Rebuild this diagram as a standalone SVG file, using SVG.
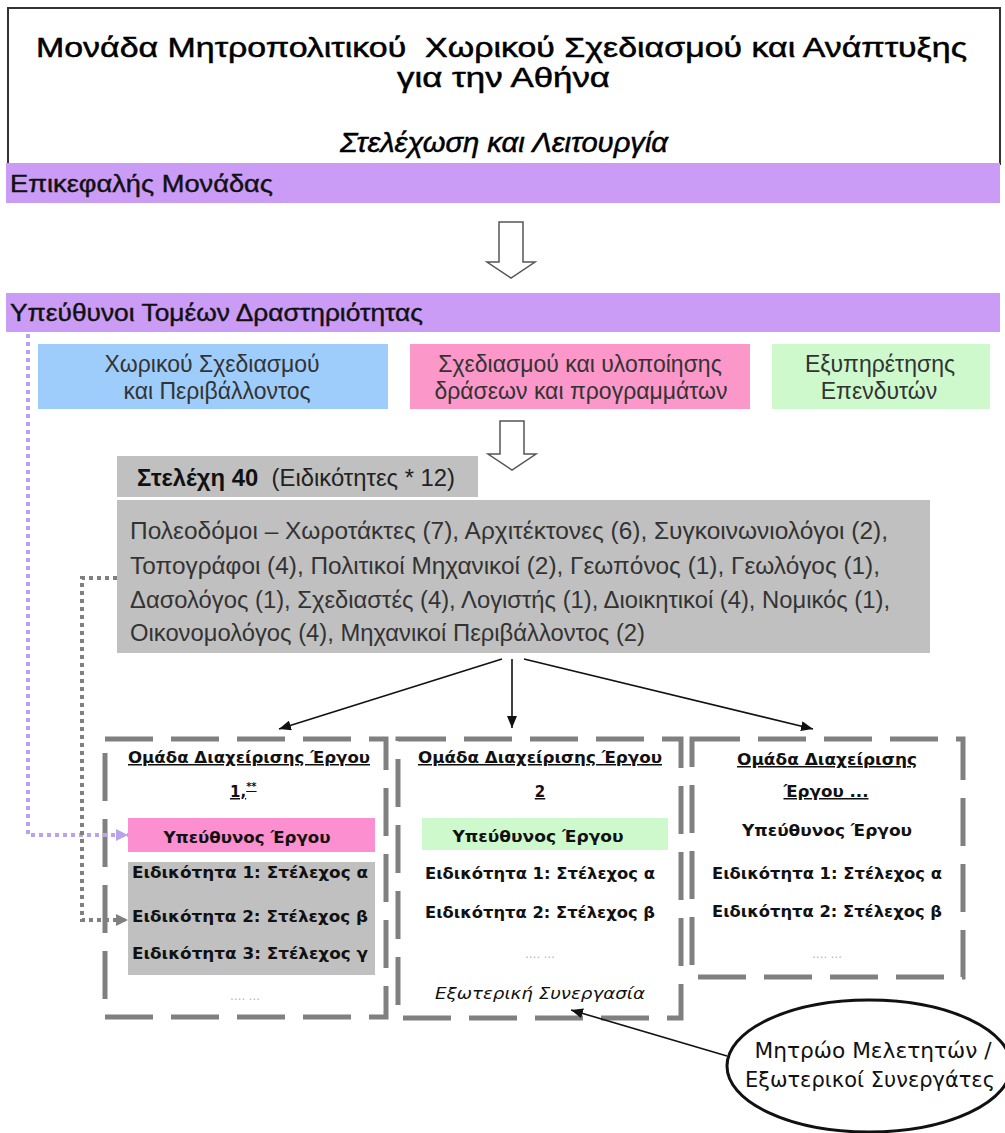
<svg xmlns="http://www.w3.org/2000/svg" width="1005" height="1133" viewBox="0 0 1005 1133">
<style>
.sans{font-family:"Liberation Sans",Arial,sans-serif}
.thick{stroke:#000;stroke-width:0.5}
.bold{font-family:"DejaVu Sans","Liberation Sans",sans-serif;font-weight:bold;fill:#111}
.lite{font-family:"Liberation Sans",Arial,sans-serif;fill:#333}
.box{font-family:"Liberation Sans",Arial,sans-serif;fill:#333;font-size:23px;text-anchor:middle}
.dash{fill:none;stroke:#808080;stroke-width:5;stroke-dasharray:48 18}
.hollow{fill:#fff;stroke:#555;stroke-width:1.5}
.dots{font-family:"Liberation Sans",sans-serif;font-size:12px;fill:#b0b0b0}
.ln{fill:none;stroke:#111;stroke-width:1.6}
</style>
<defs>
<marker id="ab" viewBox="0 0 12 10" refX="12" refY="5" markerWidth="12" markerHeight="10" markerUnits="userSpaceOnUse" orient="auto"><path d="M0,0 L12,5 L0,10 Z" fill="#111"/></marker>
<marker id="al" viewBox="0 0 12 12" refX="12" refY="6" markerWidth="12" markerHeight="14" markerUnits="userSpaceOnUse" orient="auto"><path d="M0,0 L12,6 L0,12 Z" fill="#b9a3ec"/></marker>
<marker id="ag" viewBox="0 0 12 12" refX="12" refY="6" markerWidth="12" markerHeight="14" markerUnits="userSpaceOnUse" orient="auto"><path d="M0,0 L12,6 L0,12 Z" fill="#808080"/></marker>
</defs>
<rect width="1005" height="1133" fill="#fff"/>

<g id="title">
<rect x="8" y="8" width="992" height="156" fill="#fff" stroke="#333" stroke-width="2"/>
<text class="sans thick" x="36" y="57" font-size="28" fill="#000" textLength="931" lengthAdjust="spacingAndGlyphs" xml:space="preserve">Μονάδα Μητροπολιτικού  Χωρικού Σχεδιασμού και Ανάπτυξης</text>
<text class="sans thick" x="397" y="87" font-size="28" fill="#000" textLength="213" lengthAdjust="spacingAndGlyphs">για την Αθήνα</text>
<text class="sans thick" x="340" y="152" font-size="28" font-style="italic" fill="#000" textLength="328" lengthAdjust="spacingAndGlyphs">Στελέχωση και Λειτουργία</text>
</g>

<g id="head">
<rect x="6" y="163" width="994" height="40" fill="#ca9cf6"/>
<text class="sans" x="10" y="192" font-size="23" fill="#111" stroke="#111" stroke-width="0.4" textLength="263" lengthAdjust="spacingAndGlyphs">Επικεφαλής Μονάδας</text>
</g>

<g id="sectors">
<rect x="6" y="293" width="994" height="39" fill="#ca9cf6"/>
<text class="sans" x="10" y="321" font-size="23" fill="#111" stroke="#111" stroke-width="0.4" textLength="413" lengthAdjust="spacingAndGlyphs">Υπεύθυνοι Τομέων Δραστηριότητας</text>
</g>

<g id="sector-blue">
<rect x="38" y="344" width="350" height="65" fill="#9fcdfb"/>
<text class="box" x="212" y="372">Χωρικού Σχεδιασμού</text>
<text class="box" x="217" y="399">και Περιβάλλοντος</text>
</g>
<g id="sector-pink">
<rect x="410" y="344" width="340" height="65" fill="#fb97c9"/>
<text class="box" x="580" y="372">Σχεδιασμού και υλοποίησης</text>
<text class="box" x="581" y="399">δράσεων και προγραμμάτων</text>
</g>
<g id="sector-green">
<rect x="772" y="344" width="218" height="65" fill="#cdf9cd"/>
<text class="box" x="880" y="372">Εξυπηρέτησης</text>
<text class="box" x="879" y="399">Επενδυτών</text>
</g>

<g id="staff-head">
<rect x="117" y="456" width="361" height="41" fill="#c0c0c0"/>
<text class="sans" x="137" y="486" font-size="23" fill="#222" textLength="318" lengthAdjust="spacingAndGlyphs" xml:space="preserve"><tspan font-weight="bold" fill="#111">Στελέχη 40</tspan>  (Ειδικότητες * 12)</text>
</g>
<g id="staff-list">
<rect x="117" y="500" width="813" height="153" fill="#c0c0c0"/>
<text class="lite" x="130" y="539" font-size="23" fill="#222" textLength="758" lengthAdjust="spacingAndGlyphs">Πολεοδόμοι – Χωροτάκτες (7), Αρχιτέκτονες (6), Συγκοινωνιολόγοι (2),</text>
<text class="lite" x="130" y="574" font-size="23" fill="#222" textLength="750" lengthAdjust="spacingAndGlyphs">Τοπογράφοι (4), Πολιτικοί Μηχανικοί (2), Γεωπόνος (1), Γεωλόγος (1),</text>
<text class="lite" x="130" y="608" font-size="23" fill="#222" textLength="760" lengthAdjust="spacingAndGlyphs">Δασολόγος (1), Σχεδιαστές (4), Λογιστής (1), Διοικητικοί (4), Νομικός (1),</text>
<text class="lite" x="130" y="641" font-size="23" fill="#222" textLength="515" lengthAdjust="spacingAndGlyphs">Οικονομολόγος (4), Μηχανικοί Περιβάλλοντος (2)</text>
</g>

<g id="team1">
<rect class="dash" x="105" y="739" width="281" height="278"/>
<text class="bold" x="249" y="763" font-size="15" text-anchor="middle" text-decoration="underline" textLength="242" lengthAdjust="spacingAndGlyphs">Ομάδα Διαχείρισης Έργου</text>
<text class="bold" x="230" y="797" font-size="15" text-decoration="underline">1,<tspan font-size="10" dy="-7">**</tspan></text>
<rect x="128" y="818" width="247" height="34" fill="#fb8fcf"/>
<text class="bold" x="247" y="843" font-size="16" text-anchor="middle" textLength="167" lengthAdjust="spacingAndGlyphs">Υπεύθυνος Έργου</text>
<rect x="128" y="862" width="247" height="113" fill="#c0c0c0"/>
<text class="bold" x="250" y="878" font-size="16" text-anchor="middle" textLength="236" lengthAdjust="spacingAndGlyphs">Ειδικότητα 1: Στέλεχος α</text>
<text class="bold" x="250" y="922" font-size="16" text-anchor="middle" textLength="236" lengthAdjust="spacingAndGlyphs">Ειδικότητα 2: Στέλεχος β</text>
<text class="bold" x="250" y="959" font-size="16" text-anchor="middle" textLength="236" lengthAdjust="spacingAndGlyphs">Ειδικότητα 3: Στέλεχος γ</text>
<text class="dots" x="245" y="1000" text-anchor="middle">…. …</text>
</g>

<g id="team2">
<rect class="dash" x="398" y="739" width="283" height="279"/>
<text class="bold" x="540" y="763" font-size="15" text-anchor="middle" text-decoration="underline" textLength="244" lengthAdjust="spacingAndGlyphs">Ομάδα Διαχείρισης Έργου</text>
<text class="bold" x="540" y="797" font-size="15" text-anchor="middle" text-decoration="underline">2</text>
<rect x="422" y="818" width="246" height="32" fill="#cdf9cd"/>
<text class="bold" x="538" y="842" font-size="16" text-anchor="middle" textLength="171" lengthAdjust="spacingAndGlyphs">Υπεύθυνος Έργου</text>
<text class="bold" x="540" y="879" font-size="16" text-anchor="middle" textLength="230" lengthAdjust="spacingAndGlyphs">Ειδικότητα 1: Στέλεχος α</text>
<text class="bold" x="540" y="918" font-size="16" text-anchor="middle" textLength="230" lengthAdjust="spacingAndGlyphs">Ειδικότητα 2: Στέλεχος β</text>
<text class="dots" x="540" y="958" text-anchor="middle">…. …</text>
<text font-family="DejaVu Sans, Liberation Sans, sans-serif" x="540" y="999" font-size="16" font-style="italic" fill="#111" text-anchor="middle" textLength="210" lengthAdjust="spacingAndGlyphs">Εξωτερική Συνεργασία</text>
</g>

<g id="team3">
<rect class="dash" x="692" y="739" width="271" height="238"/>
<text class="bold" x="827" y="765" font-size="15" text-anchor="middle" text-decoration="underline" textLength="180" lengthAdjust="spacingAndGlyphs">Ομάδα Διαχείρισης</text>
<text class="bold" x="826" y="797" font-size="15" text-anchor="middle" text-decoration="underline" textLength="85" lengthAdjust="spacingAndGlyphs">Έργου ...</text>
<text class="bold" x="827" y="836" font-size="16" text-anchor="middle" textLength="170" lengthAdjust="spacingAndGlyphs">Υπεύθυνος Έργου</text>
<text class="bold" x="827" y="879" font-size="16" text-anchor="middle" textLength="230" lengthAdjust="spacingAndGlyphs">Ειδικότητα 1: Στέλεχος α</text>
<text class="bold" x="827" y="917" font-size="16" text-anchor="middle" textLength="230" lengthAdjust="spacingAndGlyphs">Ειδικότητα 2: Στέλεχος β</text>
<text class="dots" x="827" y="958" text-anchor="middle">…. …</text>
</g>

<g id="registry">
<ellipse cx="869" cy="1066" rx="142" ry="66" fill="#fff" stroke="#111" stroke-width="3"/>
<text font-family="DejaVu Sans, Liberation Sans, sans-serif" x="873" y="1058" font-size="22" fill="#111" text-anchor="middle" textLength="237" lengthAdjust="spacingAndGlyphs">Μητρώο Μελετητών /</text>
<text font-family="DejaVu Sans, Liberation Sans, sans-serif" x="745" y="1087" font-size="21" fill="#111" textLength="250" lengthAdjust="spacingAndGlyphs">Εξωτερικοί Συνεργάτες</text>
</g>

<g id="connectors">
<path class="hollow" d="M499,222 H523 V262 H535 L511,278 L487,262 H499 Z"/>
<path class="hollow" d="M500,421 H524 V454 H536 L512,470 L488,454 H500 Z"/>
<path class="ln" d="M502,659 L279,729" marker-end="url(#ab)"/>
<path class="ln" d="M512,659 V728" marker-end="url(#ab)"/>
<path class="ln" d="M524,659 L813,729" marker-end="url(#ab)"/>
<path class="ln" d="M727,1056 L571,1010" marker-end="url(#ab)"/>
<path d="M28,334 V835 H128" fill="none" stroke="#b9a3ec" stroke-width="4" stroke-dasharray="4 4" marker-end="url(#al)"/>
<path d="M117,578 H82 V920 H128" fill="none" stroke="#808080" stroke-width="4" stroke-dasharray="4 4" marker-end="url(#ag)"/>
</g>
</svg>
